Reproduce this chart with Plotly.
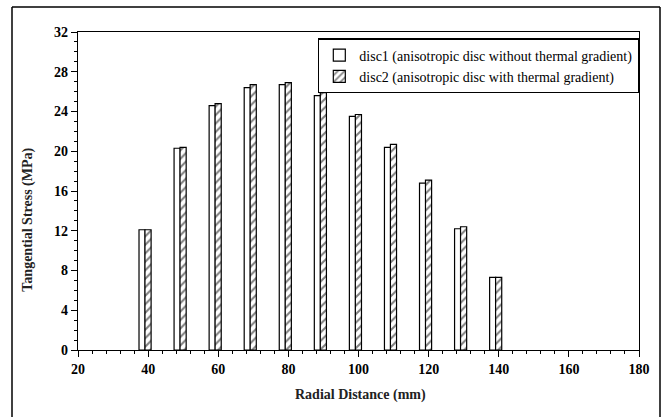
import plotly.graph_objects as go

radii = [40, 50, 60, 70, 80, 90, 100, 110, 120, 130, 140]
disc1 = [12.1, 20.3, 24.6, 26.4, 26.7, 25.6, 23.5, 20.4, 16.8, 12.2, 7.3]
disc2 = [12.1, 20.4, 24.8, 26.7, 26.9, 25.9, 23.7, 20.7, 17.1, 12.4, 7.3]
name1 = "disc1 (anisotropic disc without thermal gradient)"
name2 = "disc2 (anisotropic disc with thermal gradient)"

FONT = "Liberation Serif"

fig = go.Figure()
fig.add_trace(go.Bar(
    x=radii, y=disc1, name=name1, width=1.75, offset=-2.6,
    marker=dict(color="white", line=dict(color="black", width=1.2)),
))
fig.add_trace(go.Bar(
    x=radii, y=disc2, name=name2, width=1.75, offset=-0.9,
    marker=dict(color="white", line=dict(color="black", width=1.2),
                pattern=dict(shape="/", fgcolor="black", bgcolor="white",
                             size=6, solidity=0.35)),
))

axis_common = dict(
    showline=True, linecolor="black", linewidth=1.2, mirror=True,
    ticks="outside", ticklen=6, tickwidth=1.2, tickcolor="black",
    showgrid=False, zeroline=False,
    tickfont=dict(family=FONT, size=14, color="black", weight="bold"),
)

fig.update_xaxes(range=[20, 180], tick0=20, dtick=20,
                 minor=dict(dtick=4, ticks="outside", ticklen=3, tickcolor="black", tickwidth=1),
                 **axis_common)
fig.update_yaxes(range=[0, 32], tick0=0, dtick=4,
                 minor=dict(dtick=1, ticks="outside", ticklen=3, tickcolor="black", tickwidth=1),
                 **axis_common)

fig.add_annotation(text="Tangential Stress (MPa)", xref="paper", yref="paper",
                   x=-0.089, y=0.41, textangle=-90, showarrow=False,
                   xanchor="center", yanchor="middle",
                   font=dict(family=FONT, size=14, color="#222", weight="bold"))
fig.add_annotation(text="Radial Distance (mm)", xref="paper", yref="paper",
                   x=0.503, y=-0.143, showarrow=False,
                   xanchor="center", yanchor="middle",
                   font=dict(family=FONT, size=14, color="#222", weight="bold"))

# outer frame (left, top, right), positioned in pixels from the plot edges
frame = dict(type="line", xref="paper", yref="paper",
             xsizemode="pixel", ysizemode="pixel",
             line=dict(color="black", width=1.5))
fig.add_shape(xanchor=0, yanchor=1, x0=-66, x1=-66, y0=25, y1=-420, **frame)
fig.add_shape(xanchor=0, yanchor=1, x0=-66, x1=582, y0=25, y1=25, **frame)
fig.add_shape(xanchor=1, yanchor=1, x0=21, x1=21, y0=25, y1=-420, **frame)

fig.update_layout(
    width=666, height=417,
    margin=dict(l=78, r=27, t=32, b=67),
    barmode="overlay",
    plot_bgcolor="white", paper_bgcolor="white",
    font=dict(family=FONT, color="black"),
    legend=dict(x=0.428, y=0.98, xanchor="left", yanchor="top",
                bordercolor="black", borderwidth=1.2, bgcolor="white",
                font=dict(family=FONT, size=14, color="black"),
                tracegroupgap=0),
    showlegend=True,
)

fig.write_html("out.html", config={"displayModeBar": False},
               post_script="document.body.style.margin='0';document.body.style.overflow='hidden';")
